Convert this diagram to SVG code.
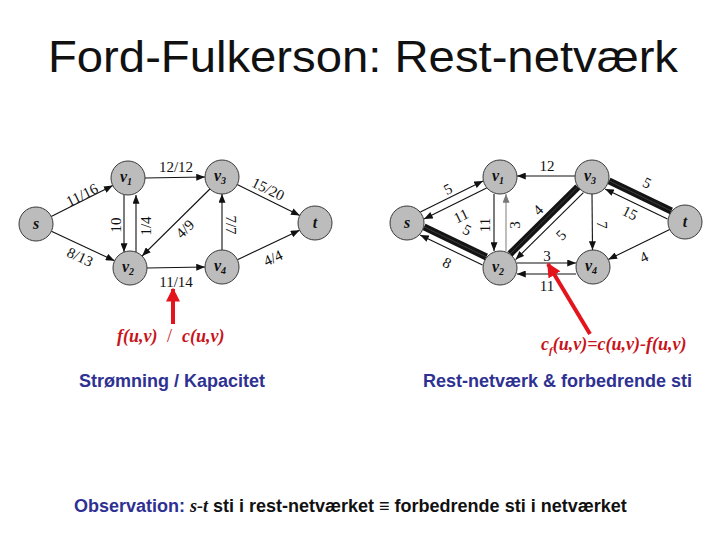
<svg xmlns="http://www.w3.org/2000/svg" width="720" height="540" viewBox="0 0 720 540">
<style>
.node{fill:#bcbcbc;stroke:#3a3a3a;stroke-width:1}
.nl{font-family:"Liberation Serif",serif;font-style:italic;font-weight:bold;font-size:16px;fill:#111;text-anchor:middle}
.sub{font-size:10px}
.e{stroke:#111;stroke-width:1.1;fill:none;marker-end:url(#ah)}
.eg{stroke:#888;stroke-width:1.1;fill:none;marker-end:url(#ahg)}
.band{stroke:#141414;stroke-width:7;fill:none}
.bandin{stroke:#3c3c3c;stroke-width:1;fill:none}
.lb{font-family:"Liberation Serif",serif;font-size:15px;fill:#111;text-anchor:middle;dominant-baseline:central}
.red{stroke:#e3141b;stroke-width:4;fill:none;marker-end:url(#rah)}
.form{font-family:"Liberation Serif",serif;font-style:italic;font-weight:bold;font-size:18px;fill:#c8141b}
.cap{font-family:"Liberation Sans",Arial,sans-serif;font-weight:bold;font-size:18px;fill:#2e3192}
</style>
<defs>
<marker id="ah" viewBox="0 0 10 8" refX="10" refY="4" markerWidth="9" markerHeight="7" markerUnits="userSpaceOnUse" orient="auto"><path d="M0,0 L10,4 L0,8 z" fill="#111"/></marker>
<marker id="ahg" viewBox="0 0 10 8" refX="10" refY="4" markerWidth="9" markerHeight="7" markerUnits="userSpaceOnUse" orient="auto"><path d="M0,0 L10,4 L0,8 z" fill="#777"/></marker>
<marker id="rah" viewBox="0 0 10 10" refX="9" refY="5" markerWidth="14" markerHeight="14" markerUnits="userSpaceOnUse" orient="auto"><path d="M0,0 L10,5 L0,10 z" fill="#e3141b"/></marker>
</defs>
<rect width="720" height="540" fill="#fff"/>
<text x="48" y="72" font-family="'Liberation Sans',Arial,sans-serif" font-size="45" textLength="630" lengthAdjust="spacingAndGlyphs" fill="#111">Ford-Fulkerson: Rest-netværk</text>

<g id="connectors">
<!-- left graph -->
<line class="e" x1="51.2" y1="216.4" x2="112.8" y2="185.6"/>
<line class="e" x1="51.4" y1="231.2" x2="114.6" y2="260.8"/>
<line class="e" x1="145" y1="178" x2="205" y2="177"/>
<line class="e" x1="124" y1="195" x2="124" y2="252"/>
<line class="e" x1="136" y1="252" x2="136" y2="195"/>
<line class="e" x1="209.9" y1="189" x2="142.1" y2="256"/>
<line class="e" x1="222" y1="250" x2="222" y2="194"/>
<line class="e" x1="147" y1="268" x2="205" y2="267"/>
<line class="e" x1="237.2" y1="184.5" x2="299.8" y2="215.5"/>
<line class="e" x1="237.4" y1="259.7" x2="299.6" y2="230.3"/>
<!-- right graph -->
<line class="e" x1="420.4" y1="211.9" x2="483" y2="180.9"/>
<line class="e" x1="486.6" y1="188.1" x2="424" y2="219.1"/>
<line class="band" x1="424" y1="226.8" x2="486.4" y2="257"/>
<line class="bandin" x1="424" y1="226.8" x2="486.4" y2="257"/>
<line class="e" x1="482.5" y1="265.1" x2="420.1" y2="234.9"/>
<line class="e" x1="494" y1="194" x2="494" y2="251"/>
<line class="eg" x1="506" y1="251" x2="506" y2="194"/>
<line class="band" x1="510" y1="253.9" x2="577.8" y2="186.9"/>
<line class="bandin" x1="510" y1="253.9" x2="577.8" y2="186.9"/>
<line class="e" x1="583.4" y1="192.6" x2="515.6" y2="259.6"/>
<line class="e" x1="575" y1="176" x2="517" y2="176"/>
<line class="e" x1="592" y1="194" x2="592.5" y2="250"/>
<line class="e" x1="517" y1="263" x2="576" y2="263"/>
<line class="e" x1="576" y1="274" x2="517" y2="274"/>
<line class="band" x1="609" y1="180.8" x2="671.4" y2="211"/>
<line class="bandin" x1="609" y1="180.8" x2="671.4" y2="211"/>
<line class="e" x1="667.5" y1="219.1" x2="605.1" y2="188.9"/>
<line class="e" x1="669.7" y1="229.5" x2="608.3" y2="259.5"/>
</g>

<g id="edge-labels">
<text class="lb" transform="translate(82,195) rotate(-26.6)">11/16</text>
<text class="lb" transform="translate(80,257) rotate(25)">8/13</text>
<text class="lb" x="176" y="167">12/12</text>
<text class="lb" transform="translate(116,225) rotate(-90)">10</text>
<text class="lb" transform="translate(146,226) rotate(-90)">1/4</text>
<text class="lb" transform="translate(185,229) rotate(-45)">4/9</text>
<text class="lb" transform="translate(231,225) rotate(90)">7/7</text>
<text class="lb" x="176" y="282">11/14</text>
<text class="lb" transform="translate(268,189) rotate(26)">15/20</text>
<text class="lb" transform="translate(273,258) rotate(-25)">4/4</text>

<text class="lb" transform="translate(448,189) rotate(-26)">5</text>
<text class="lb" transform="translate(461,216) rotate(-26)">11</text>
<text class="lb" transform="translate(467,230) rotate(26)">5</text>
<text class="lb" transform="translate(447,263) rotate(26)">8</text>
<text class="lb" transform="translate(485,225) rotate(-90)">11</text>
<text class="lb" transform="translate(515,225) rotate(-90)">3</text>
<text class="lb" transform="translate(538,210) rotate(-45)">4</text>
<text class="lb" transform="translate(561,235) rotate(-45)">5</text>
<text class="lb" x="547" y="166">12</text>
<text class="lb" transform="translate(602,225) rotate(90)">7</text>
<text class="lb" x="547" y="256">3</text>
<text class="lb" x="547" y="286">11</text>
<text class="lb" transform="translate(647,183) rotate(26)">5</text>
<text class="lb" transform="translate(630,213) rotate(26)">15</text>
<text class="lb" transform="translate(644,257) rotate(-26)">4</text>
</g>

<g id="L-s"><circle class="node" cx="36" cy="224" r="17"/><text class="nl" x="36" y="229">s</text></g>
<g id="L-v1"><circle class="node" cx="128" cy="178" r="17"/><text class="nl" x="126" y="182">v<tspan class="sub" dy="3">1</tspan></text></g>
<g id="L-v2"><circle class="node" cx="130" cy="268" r="17"/><text class="nl" x="128" y="272">v<tspan class="sub" dy="3">2</tspan></text></g>
<g id="L-v3"><circle class="node" cx="222" cy="177" r="17"/><text class="nl" x="220" y="181">v<tspan class="sub" dy="3">3</tspan></text></g>
<g id="L-v4"><circle class="node" cx="222" cy="267" r="17"/><text class="nl" x="220" y="271">v<tspan class="sub" dy="3">4</tspan></text></g>
<g id="L-t"><circle class="node" cx="315" cy="223" r="17"/><text class="nl" x="315" y="228">t</text></g>

<g id="R-s"><circle class="node" cx="407" cy="223" r="17"/><text class="nl" x="407" y="228">s</text></g>
<g id="R-v1"><circle class="node" cx="500" cy="177" r="17"/><text class="nl" x="498" y="181">v<tspan class="sub" dy="3">1</tspan></text></g>
<g id="R-v2"><circle class="node" cx="500" cy="268" r="17"/><text class="nl" x="498" y="272">v<tspan class="sub" dy="3">2</tspan></text></g>
<g id="R-v3"><circle class="node" cx="592" cy="177" r="17"/><text class="nl" x="590" y="181">v<tspan class="sub" dy="3">3</tspan></text></g>
<g id="R-v4"><circle class="node" cx="593" cy="267" r="17"/><text class="nl" x="591" y="271">v<tspan class="sub" dy="3">4</tspan></text></g>
<g id="R-t"><circle class="node" cx="685" cy="222" r="17"/><text class="nl" x="685" y="227">t</text></g>

<g id="annotations">
<line class="red" x1="173" y1="324" x2="173" y2="289"/>
<line class="red" x1="590" y1="334" x2="548" y2="264"/>
<text class="form" y="342"><tspan x="117">f(u,v)</tspan><tspan x="167" font-style="normal" font-weight="normal">/</tspan><tspan x="182">c(u,v)</tspan></text>
<text class="form" x="541" y="350">c<tspan font-size="11" dy="4">f</tspan><tspan dy="-4">(u,v)=c(u,v)-f(u,v)</tspan></text>
<text class="cap" x="79" y="387">Strømning / Kapacitet</text>
<text class="cap" x="423" y="387">Rest-netværk &amp; forbedrende sti</text>
<text x="74" y="512" font-family="'Liberation Sans',Arial,sans-serif" font-weight="bold" font-size="18" fill="#111"><tspan fill="#2e3192">Observation:</tspan> <tspan font-family="'Liberation Serif',serif" font-style="italic">s-t</tspan> sti i rest-netværket ≡ forbedrende sti i netværket</text>
</g>
</svg>
